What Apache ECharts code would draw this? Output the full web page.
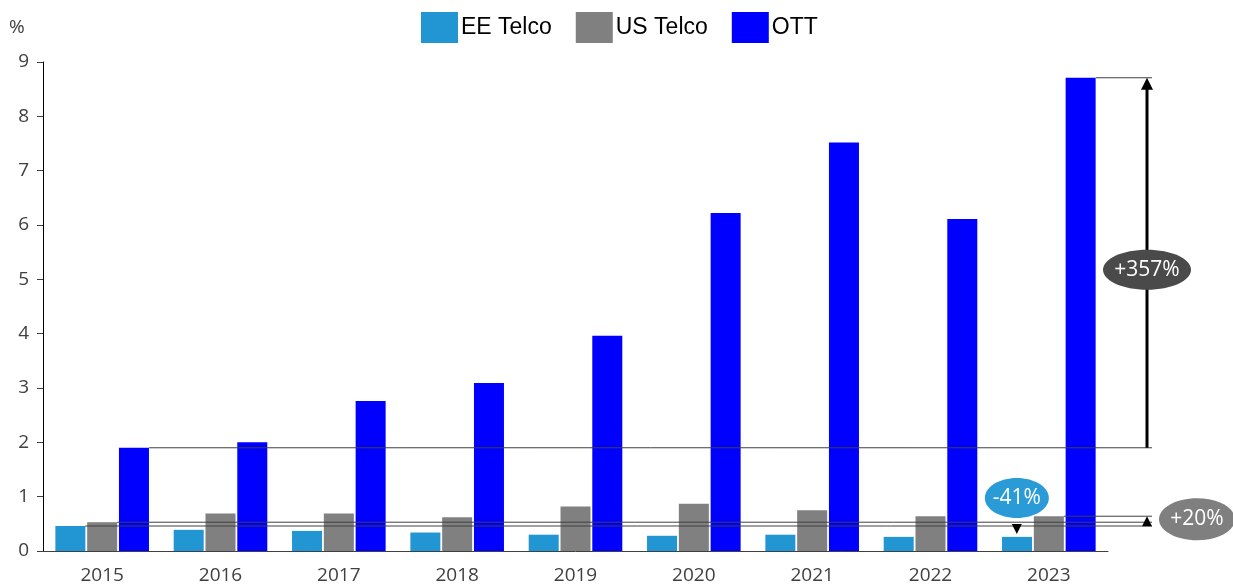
<!DOCTYPE html>
<html>
<head>
<meta charset="utf-8">
<script src="https://cdn.jsdelivr.net/npm/echarts@6/dist/echarts.min.js"></script>
<style>
html, body { margin: 0; padding: 0; background: #fff; }
#main { width: 1233px; height: 588px; }
</style>
</head>
<body>
<div id="main"></div>
<script>
const years = ['2015', '2016', '2017', '2018', '2019', '2020', '2021', '2022', '2023'];
const eeTelco = [0.46, 0.39, 0.37, 0.34, 0.30, 0.28, 0.30, 0.26, 0.26];
const usTelco = [0.53, 0.69, 0.69, 0.62, 0.82, 0.87, 0.75, 0.64, 0.64];
const ott = [1.90, 2.00, 2.76, 3.09, 3.96, 6.22, 7.52, 6.11, 8.71];
const yTicks = [0, 1, 2, 3, 4, 5, 6, 7, 8, 9];
const notes = { ott: '+357%', us: '+20%', ee: '-41%' };

const BAR_W = 30;
const GAP = 2;

const chart = echarts.init(document.getElementById('main'));

const option = {
  animation: false,
  backgroundColor: '#fff',
  grid: { left: 43, right: 125, top: 62, bottom: 37 },
  legend: {
    left: 416, top: 7,
    icon: 'rect', itemWidth: 37, itemHeight: 31, itemGap: 24,
    itemStyle: { borderWidth: 0 },
    textStyle: { fontFamily: 'Liberation Sans', fontSize: 23, color: '#000', padding: [0, 0, 0, -2] },
    data: ['EE Telco', 'US Telco', 'OTT']
  },
  xAxis: {
    type: 'category',
    data: years,
    axisLine: { lineStyle: { color: '#404040', width: 1 } },
    axisTick: { show: false },
    axisLabel: { color: '#404040', fontSize: 19, fontFamily: 'Open Sans', margin: 15 }
  },
  yAxis: {
    type: 'value',
    min: yTicks[0], max: yTicks[yTicks.length - 1], interval: 1,
    axisLine: { show: true, lineStyle: { color: '#000', width: 1 } },
    axisTick: { show: true, length: 6, lineStyle: { color: '#404040' } },
    splitLine: { show: false },
    axisLabel: { color: '#404040', fontSize: 19, fontFamily: 'Open Sans', margin: 14 }
  },
  series: [
    { name: 'EE Telco', type: 'bar', data: eeTelco, barWidth: BAR_W, barGap: '6%',
      itemStyle: { color: '#2196d3' } },
    { name: 'US Telco', type: 'bar', data: usTelco, barWidth: BAR_W, barGap: '6%',
      itemStyle: { color: '#808080' } },
    { name: 'OTT', type: 'bar', data: ott, barWidth: BAR_W, barGap: '6%',
      itemStyle: { color: '#0000ff' } }
  ]
};
chart.setOption(option);

// annotations placed from data positions
const px = (i, v) => chart.convertToPixel({ gridIndex: 0 }, [i, v]);
const last = years.length - 1;
const gridRight = 1233 - 125;
const off = BAR_W + GAP;
const eeRight = i => px(i, 0)[0] - off + BAR_W / 2;
const usRight = i => px(i, 0)[0] + BAR_W / 2;
const ottRight = i => px(i, 0)[0] + off + BAR_W / 2;
const yv = v => px(0, v)[1];

const lineEnd = gridRight + 44;
const arrowX = gridRight + 39;
const thin = { stroke: '#404040', lineWidth: 1 };

function hline(x1, v) {
  return { type: 'line', shape: { x1: x1, y1: yv(v), x2: lineEnd, y2: yv(v) }, style: thin, z: 10 };
}
function bubble(cx, cy, rx, ry, fill, text) {
  return [
    { type: 'ellipse', shape: { cx: cx, cy: cy, rx: rx, ry: ry }, style: { fill: fill }, z: 20 },
    { type: 'text', x: cx, y: cy, z: 21,
      style: { text: text, fill: '#fff', font: '21px "Open Sans"', align: 'center', verticalAlign: 'middle' } }
  ];
}

const yTop = yv(ott[last]);
const yBase = yv(ott[0]);
const eeX = px(last, 0)[0] - off;

const graphics = [
  { type: 'text', x: 9, y: 18, style: { text: '%', fill: '#404040', font: '19px "Open Sans"' } },
  hline(ottRight(0), ott[0]),
  hline(ottRight(last), ott[last]),
  hline(usRight(0), usTelco[0]),
  hline(eeRight(0), eeTelco[0]),
  hline(usRight(last), usTelco[last]),
  { type: 'line', shape: { x1: arrowX, y1: yBase, x2: arrowX, y2: yTop + 10 },
    style: { stroke: '#000', lineWidth: 3 }, z: 11 },
  { type: 'polygon', shape: { points: [[arrowX, yTop], [arrowX - 6, yTop + 12], [arrowX + 6, yTop + 12]] },
    style: { fill: '#000' }, z: 11 },
  { type: 'polygon', shape: { points: [[arrowX, yv(usTelco[last])], [arrowX - 5, yv(usTelco[last]) + 10], [arrowX + 5, yv(usTelco[last]) + 10]] },
    style: { fill: '#000' }, z: 11 },
  { type: 'polygon', shape: { points: [[eeX - 5, yv(eeTelco[0]) - 2], [eeX + 5, yv(eeTelco[0]) - 2], [eeX, yv(eeTelco[0]) + 8]] },
    style: { fill: '#000' }, z: 11 }
].concat(
  bubble(arrowX, (yTop + yBase) / 2 + 7, 44, 20, '#4a4a4a', notes.ott),
  bubble(gridRight + 89, (yv(usTelco[0]) + yv(usTelco[last])) / 2, 38, 21, '#7f7f7f', notes.us),
  bubble(eeX, yv(eeTelco[0]) - 28, 32, 20, '#2a9bd6', notes.ee)
);

chart.setOption({ graphic: graphics });
</script>
</body>
</html>
